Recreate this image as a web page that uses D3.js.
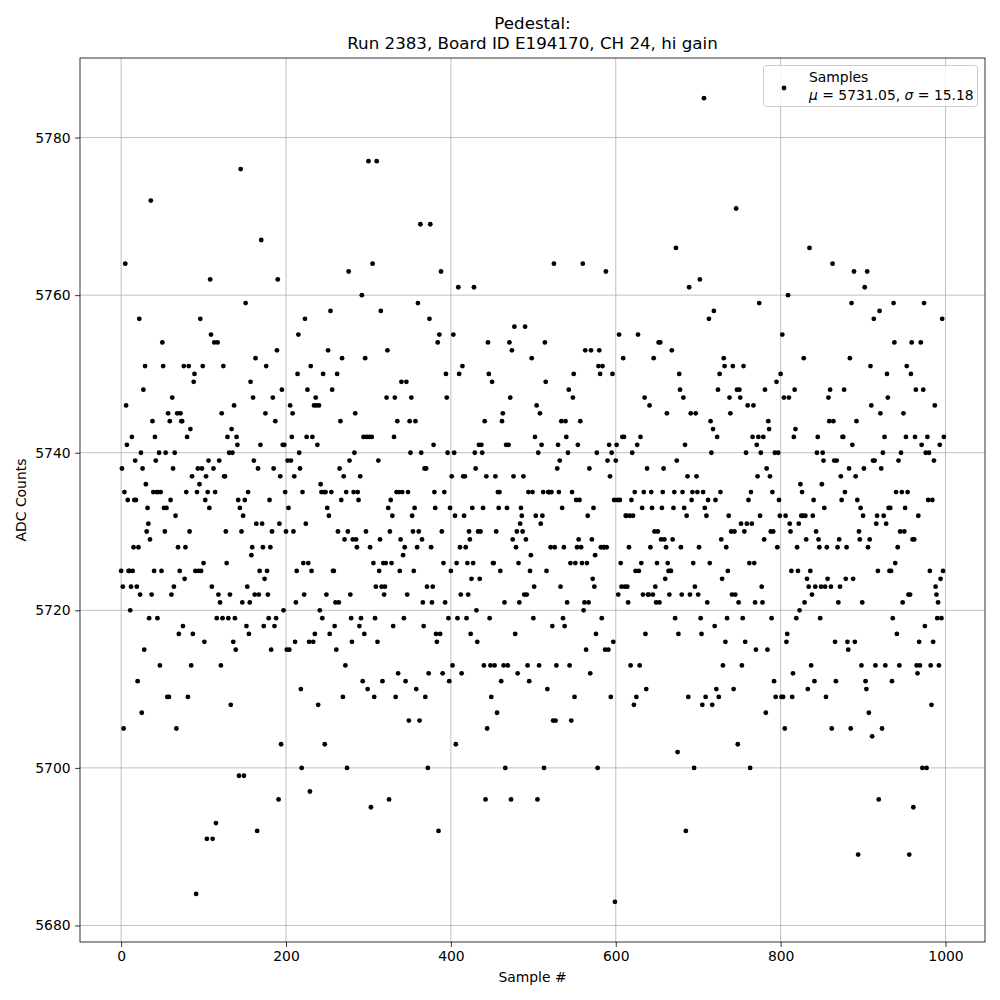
<!DOCTYPE html>
<html>
<head>
<meta charset="utf-8">
<script src="https://cdn.jsdelivr.net/npm/d3@7"></script>
<style>
  body { margin: 0; background: #fff; }
  text { font-family: "DejaVu Sans", sans-serif; fill: #000; }
</style>
</head>
<body>
<div id="chart"></div>
<script>
// ADC counts per sample in sample order (split in chunks)
const adcPart1 = [
  5725,5738,5723,5705,5735,5764,5746,5741,5734,5725,
  5725,5720,5723,5742,5725,5728,5734,5739,5734,5723,
  5711,5728,5757,5722,5740,5707,5738,5748,5715,5751,
  5736,5730,5733,5731,5719,5729,5772,5722,5744,5735,
  5725,5742,5739,5735,5719,5735,5740,5713,5735,5725,
  5754,5751,5733,5730,5740,5733,5709,5745,5709,5744,
  5734,5722,5747,5738,5723,5740,5732,5705,5745,5728,
  5717,5725,5745,5744,5744,5718,5751,5724,5728,5735,
  5742,5709,5751,5730,5743,5713,5737,5717,5749,5750,
  5725,5684,5735,5738,5725,5736,5757,5725,5738,5751,
  5726,5716,5734,5737,5691,5735,5739,5733,5762,5755,
  5723,5691,5738,5754,5735,5693,5719,5754,5722,5739,
  5721,5713,5745,5719,5751,5737,5737,5730,5726,5742,
  5719,5740,5722,5708,5743,5740,5716,5746,5719,5715,
  5742,5741,5734,5699,5733,5776,5730,5721,5732,5699,
  5734,5759,5718,5723,5735,5717,5721,5749,5727,5728,
  5747,5739
];
const adcPart2 = [
  5722,5752,5731,5692,5738,5722,5725,5741,5767,5731,
  5728,5718,5724,5745,5751,5725,5722,5719,5734,5728,
  5715,5730,5747,5738,5718,5744,5719,5753,5762,5696,
  5731,5737,5703,5748,5741,5720,5741,5735,5730,5715,
  5739,5733,5715,5746,5739,5742,5745,5730,5737,5716,
  5721,5725,5750,5755,5740,5738,5710,5700,5735,5726,
  5722,5757,5731,5742,5748,5726,5716,5697,5751,5725,
  5742,5716,5746,5717,5747,5746,5741,5708,5746,5720,
  5736,5735,5719,5750,5735,5703,5735,5722,5733,5753,
  5732,5717,5758,5735,5748,5725,5725,5718,5721,5715,
  5750,5730,5721,5738,5744,5734,5752,5709,5737,5729,
  5713,5735,5700,5730,5763,5739,5722,5719,5716,5729,
  5735,5740,5745,5729,5728,5735,5734,5718,5737,5719,
  5760,5711,5742,5717,5752,5730,5742,5710,5777,5742,
  5728,5695,5742,5764,5726,5709,5719,5723,5777,5716,
  5739,5725,5729,5758,5723,5711,5726,5722,5723,5726,
  5747,5753,5733,5696,5730,5734,5726,5732,5718
];
const adcPart3 = [
  5742,5747,5709,5735,5744,5712,5735,5725,5729,5749,
  5735,5727,5719,5728,5711,5749,5722,5735,5706,5744,
  5740,5747,5732,5730,5725,5733,5744,5710,5728,5759,
  5730,5706,5769,5740,5729,5721,5718,5738,5709,5738,
  5723,5700,5712,5757,5769,5728,5721,5723,5741,5735,
  5733,5717,5716,5754,5692,5755,5717,5763,5730,5712,
  5726,5735,5721,5750,5747,5740,5719,5711,5733,5725,
  5737,5713,5755,5740,5732,5703,5726,5719,5761,5750,
  5728,5722,5712,5751,5737,5732,5737,5728,5719,5726,
  5722,5730,5729,5717,5724,5733,5726,5761,5740,5738,
  5720,5716,5730,5741,5724,5730,5741,5740,5733,5713,
  5744,5696,5737,5705,5754,5750,5719,5713,5709,5749,
  5726,5726,5713,5737,5730,5707,5735,5733,5735,5725,
  5711,5744,5745,5713,5721,5700,5741,5733,5713,5741,
  5754,5747,5696,5753,5729,5737,5756,5717,5728,5730,
  5712,5726,5721,5731,5733,5732,5730,5737,5722,5756,
  5729,5722,5713,5735,5711,5725,5727,5752,5735,5719,
  5723
];
const adcPart4 = [
  5742,5732,5746,5696,5740,5713,5745,5731,5741,5732,
  5735,5700,5754,5749,5725,5710,5735,5735,5735,5728,5735,
  5718,5706,5764,5728,5706,5713,5738,5741,5735,5739,
  5723,5744,5733,5719,5728,5718,5744,5742,5721,5740,
  5748,5713,5726,5706,5735,5747,5750,5709,5726,5734,
  5728,5741,5729,5734,5744,5728,5726,5764,5720,5721,
  5753,5715,5726,5732,5721,5738,5712,5753,5729,5724,
  5733,5723,5727,5717,5740,5700,5751,5753,5750,5728,
  5719,5751,5728,5728,5715,5763,5728,5739,5715,5741,5737,
  5709,5740,5750,5716,5734,5683,5739,5741,5734,5722,
  5755,5734,5726,5723,5742,5752,5742,5723,5732,5732,5723,
  5721,5728,5732,5713,5734,5740,5732,5708,5735,5725,
  5709,5741,5755,5725,5713,5742,5726,5733,5722,5735,
  5747,5717,5710,5738,5722,5722,5746,5728,5735,5733,5722,
  5752,5730,5723,5721,5726,5730,5754,5721,5754,5729,
  5733,5735,5738,5729,5724,5728,5745,5726,5725,5722,
  5725,5725,5753,5729,5733
];
const adcPart5 = [
  5735,5719,5766,5739,5702,5717,5750,5748,5728,5722,
  5735,5747,5733,5741,5692,5732,5737,5709,5761,5722,
  5745,5734,5735,5726,5700,5723,5745,5737,5735,5722,
  5728,5762,5719,5717,5708,5735,5785,5733,5709,5732,
  5721,5734,5757,5726,5744,5740,5708,5743,5758,5718,
  5734,5710,5742,5748,5709,5750,5735,5729,5724,5713,
  5752,5751,5716,5728,5719,5725,5732,5747,5745,5730,
  5722,5751,5710,5730,5722,5771,5748,5703,5721,5748,
  5747,5731,5713,5719,5751,5730,5716,5740,5731,5746,
  5734,5726,5700,5735,5731,5742,5746,5726,5721,5715,
  5741,5737,5742,5759,5732,5740,5723,5721,5742,5729,
  5748,5707,5738,5715,5744,5743,5737,5730,5719,5735,
  5730,5711,5740,5709,5749,5728,5740,5734,5732,5750,
  5709,5755,5709,5747,5705,5732,5716,5717,5760,5747,
  5731,5730,5725,5709,5712,5742,5748,5743,5719,5728,
  5725,5731,5720,5736,5732,5735,5732,5752,5721,5732,
  5729,5724,5710,5723,5766,5725,5713,5722,5732,5734,
  5711
];
const adcPart6 = [
  5723,5730,5740,5742,5729,5728,5719,5723,5736,5740,
  5739,5733,5723,5709,5728,5724,5747,5744,5748,5723,
  5705,5764,5744,5739,5716,5711,5739,5728,5721,5729,
  5723,5737,5734,5742,5742,5748,5735,5724,5728,5716,
  5715,5738,5752,5705,5759,5741,5724,5763,5716,5737,
  5744,5734,5689,5730,5729,5733,5713,5721,5732,5738,
  5761,5711,5710,5763,5728,5707,5729,5751,5746,5704,
  5739,5757,5739,5713,5731,5732,5725,5696,5758,5745,
  5738,5705,5740,5732,5742,5713,5731,5750,5747,5733,
  5725,5733,5725,5711,5719,5759,5754,5726,5735,5717,
  5728,5739,5713,5730,5740,5735,5721,5745,5730,5733,
  5742,5751,5735,5722,5689,5722,5750,5754,5729,5695,
  5729,5742,5748,5713,5712,5732,5716,5713,5754,5741,
  5700,5748,5759,5718,5740,5700,5742,5734,5740,5725,
  5713,5708,5734,5716,5739,5746,5723,5722,5719,5721,
  5713,5741,5724,5719,5757,5725,5742
];

const xTicks = [0, 200, 400, 600, 800, 1000];
const yTicks = [5680, 5700, 5720, 5740, 5760, 5780];
const titleLines = ["Pedestal:", "Run 2383, Board ID E194170, CH 24, hi gain"];
const legendStats = ["5731.05", "15.18"]; // mean, sigma

const adc = [].concat(adcPart1, adcPart2, adcPart3, adcPart4, adcPart5, adcPart6);
const data = adc.map((v, i) => ({sample: i, value: v}));

// figure layout (matplotlib-like)
const margin = {top: 58, right: 15, bottom: 58, left: 80},
      width = 1000 - margin.left - margin.right,
      height = 1000 - margin.top - margin.bottom;

const svg = d3.select("#chart")
    .append("svg")
    .attr("width", 1000)
    .attr("height", 1000);

const g = svg.append("g")
    .attr("transform", `translate(${margin.left},${margin.top})`);

// 5% padding on both scales, like matplotlib autoscale
const xExt = [0, data.length - 1];
const xPad = 0.05 * (xExt[1] - xExt[0]);
const yExt = d3.extent(adc);
const yPad = 0.05 * (yExt[1] - yExt[0]);

const x = d3.scaleLinear()
    .domain([xExt[0] - xPad, xExt[1] + xPad])
    .range([0, width]);
const y = d3.scaleLinear()
    .domain([yExt[0] - yPad, yExt[1] + yPad])
    .range([height, 0]);

// grid
g.append("g").selectAll("line")
    .data(xTicks)
    .join("line")
    .attr("x1", d => x(d)).attr("x2", d => x(d))
    .attr("y1", 0).attr("y2", height)
    .attr("stroke", "#b0b0b0").attr("stroke-width", 0.8);
g.append("g").selectAll("line")
    .data(yTicks)
    .join("line")
    .attr("y1", d => y(d)).attr("y2", d => y(d))
    .attr("x1", 0).attr("x2", width)
    .attr("stroke", "#b0b0b0").attr("stroke-width", 0.8);

// axes
const xAxis = g.append("g")
    .attr("transform", `translate(0,${height})`)
    .call(d3.axisBottom(x).tickValues(xTicks).tickFormat(d3.format("d")).tickSize(4.9).tickPadding(4.5));
const yAxis = g.append("g")
    .call(d3.axisLeft(y).tickValues(yTicks).tickFormat(d3.format("d")).tickSize(4.9).tickPadding(4.5));
[xAxis, yAxis].forEach(a => {
    a.select(".domain").remove();
    a.selectAll(".tick line").attr("stroke", "#000").attr("stroke-width", 0.8);
    a.selectAll(".tick text")
        .attr("font-family", "DejaVu Sans, sans-serif")
        .attr("font-size", "13.9px")
        .attr("fill", "#000");
});

// samples
g.append("g").selectAll("circle")
    .data(data)
    .join("circle")
    .attr("cx", d => x(d.sample))
    .attr("cy", d => y(d.value))
    .attr("r", 2.4)
    .attr("fill", "#000");

// frame
g.append("rect")
    .attr("width", width).attr("height", height)
    .attr("fill", "none").attr("stroke", "#000").attr("stroke-width", 0.8);

// axis labels
svg.append("text")
    .attr("x", margin.left + width / 2).attr("y", 982)
    .attr("text-anchor", "middle").attr("font-size", "13.9px")
    .text("Sample #");
svg.append("text")
    .attr("transform", `translate(26,${margin.top + height / 2}) rotate(-90)`)
    .attr("text-anchor", "middle").attr("font-size", "13.9px")
    .text("ADC Counts");

// title
svg.append("g").selectAll("text")
    .data(titleLines)
    .join("text")
    .attr("x", margin.left + width / 2)
    .attr("y", (d, i) => 29 + i * 20)
    .attr("text-anchor", "middle")
    .attr("font-size", "16.7px")
    .text(d => d);

// legend
const lg = svg.append("g");
lg.append("rect")
    .attr("x", 763.5).attr("y", 65.5)
    .attr("width", 214).attr("height", 41)
    .attr("rx", 3)
    .attr("fill", "#fff").attr("fill-opacity", 0.8)
    .attr("stroke", "#cccccc").attr("stroke-width", 1);
lg.append("circle")
    .attr("cx", 784).attr("cy", 88).attr("r", 2.4).attr("fill", "#000");
lg.append("text")
    .attr("x", 809).attr("y", 82)
    .attr("font-size", "13.9px")
    .text("Samples");
const stat = lg.append("text")
    .attr("x", 809).attr("y", 100)
    .attr("font-size", "13.9px");
stat.append("tspan").attr("font-style", "italic").text("\u03bc");
stat.append("tspan").text(` = ${legendStats[0]}, `);
stat.append("tspan").attr("font-style", "italic").text("\u03c3");
stat.append("tspan").text(` = ${legendStats[1]}`);
</script>
</body>
</html>
